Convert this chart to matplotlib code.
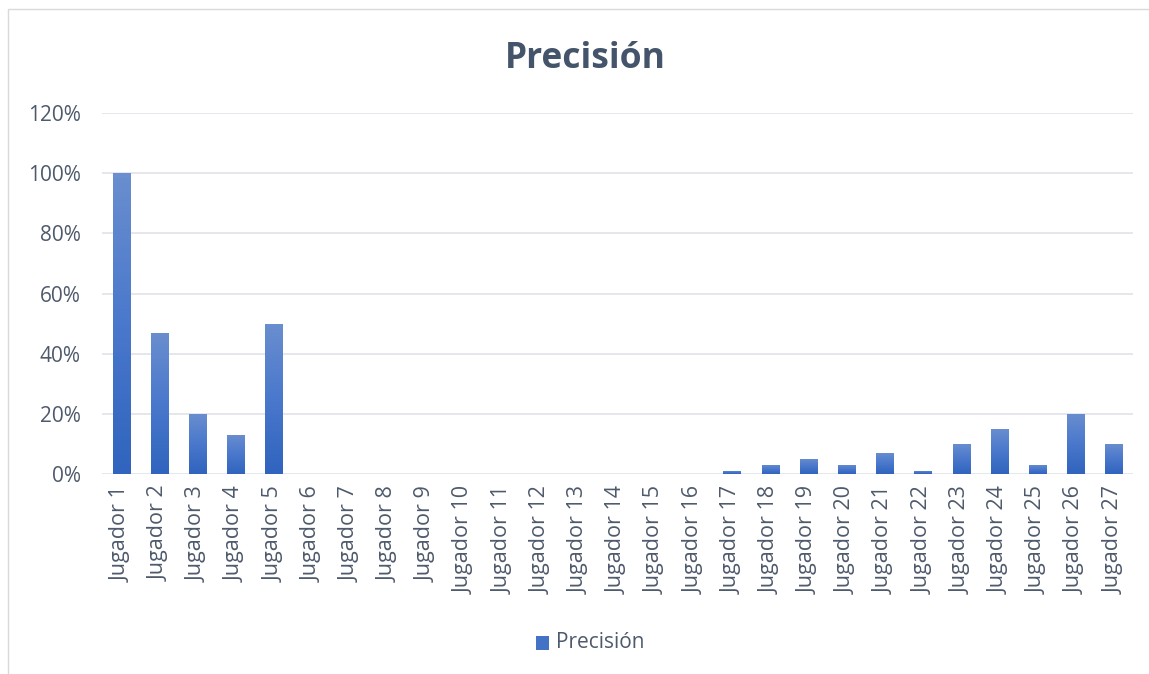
import matplotlib
matplotlib.use("Agg")
import matplotlib.pyplot as plt
import numpy as np
from matplotlib.colors import LinearSegmentedColormap
from matplotlib.patches import Rectangle

plt.rcParams['font.family'] = ['Open Sans', 'DejaVu Sans']

jugadores = ["Jugador %d" % i for i in range(1, 28)]
precision = [100, 47, 20, 13, 50, 0, 0, 0, 0, 0, 0, 0, 0, 0, 0, 0,
             1, 3, 5, 3, 7, 1, 10, 15, 3, 20, 10]
y_ticks = [0, 20, 40, 60, 80, 100, 120]

title_color = "#44546A"
text_color = "#4E5A6C"
grid_color = "#E3E5EA"

fig = plt.figure(figsize=(11.49, 6.74), dpi=100)
fig.patches.append(Rectangle((0.007, -0.01), 1.1, 0.997, transform=fig.transFigure,
                             fill=False, edgecolor="#D9D9D9", linewidth=1))
ax = fig.add_axes([0.0888, 0.2967, 0.8972, 0.5356])

x = np.arange(len(jugadores))
bars = ax.bar(x, precision, width=0.45, color="#4472C4", zorder=2)

# vertical gradient fill, lighter on top
grad = LinearSegmentedColormap.from_list("bar", ["#3064BE", "#4A78CC", "#6A8ECF"])
for b in bars:
    h = b.get_height()
    if h <= 0:
        continue
    b.set_facecolor("none")
    b.set_edgecolor("none")
    img = ax.imshow(np.linspace(0, 1, 64).reshape(-1, 1), cmap=grad, origin="lower",
                    aspect="auto", extent=(b.get_x(), b.get_x() + b.get_width(), 0, h),
                    zorder=2)
    img.set_clip_path(b)

ax.set_xlim(-0.5, len(jugadores) - 0.5)
ax.set_ylim(0, 120)
ax.set_yticks(y_ticks)
ax.set_yticklabels(["%d%%" % v for v in y_ticks], fontsize=15, color=text_color)
ax.set_xticks(x)
ax.set_xticklabels(jugadores, rotation=90, fontsize=15.5, color=text_color)
ax.tick_params(axis="both", length=0)
ax.tick_params(axis="y", pad=15.5)
ax.tick_params(axis="x", pad=8.5)
ax.grid(axis="y", color=grid_color, linewidth=1.3, zorder=0)
for s in ax.spines.values():
    s.set_visible(False)

fig.text(0.509, 0.913, "Precisión", ha="center", va="center", fontsize=25.5,
         fontweight="bold", color=title_color)

# legend
fig.patches.append(Rectangle((0.4665, 0.036), 0.0113, 0.021, transform=fig.transFigure,
                             facecolor="#4472C4", edgecolor="none"))
fig.text(0.484, 0.046, "Precisión", ha="left", va="center", fontsize=15, color=text_color)

fig.savefig("out.png", dpi=100)
